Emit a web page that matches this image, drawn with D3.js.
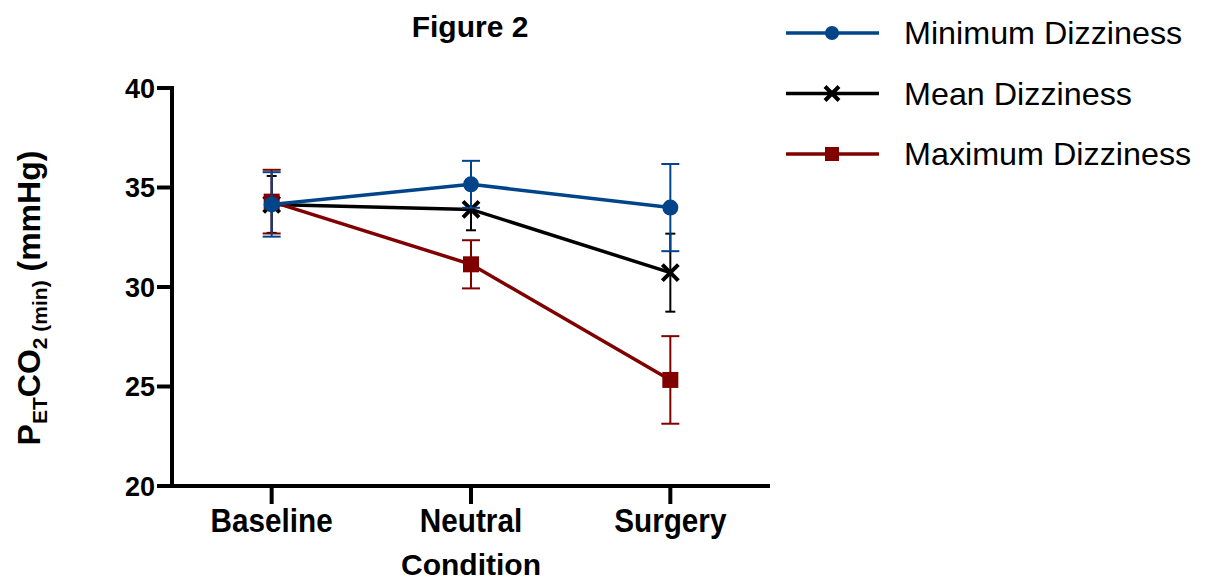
<!DOCTYPE html>
<html>
<head>
<meta charset="utf-8">
<script src="https://cdn.jsdelivr.net/npm/d3@7"></script>
<style>
  body { margin: 0; background: #fff; }
  text { font-family: "Liberation Sans", Arial, sans-serif; }
</style>
</head>
<body>
<div id="chart"></div>
<script>
// Data (PETCO2 min, mmHg, mean +/- error)
const conditions = ["Baseline", "Neutral", "Surgery"];
const seriesNames = ["Minimum Dizziness", "Mean Dizziness", "Maximum Dizziness"];
const minValues = [34.15, 35.16, 33.99];
const minErrors = [1.62, 1.18, 2.19];
const meanValues = [34.15, 33.90, 30.72];
const meanErrors = [1.43, 1.05, 1.96];
const maxValues = [34.29, 31.14, 25.33];
const maxErrors = [1.60, 1.21, 2.20];
const yTicks = [20, 25, 30, 35, 40];

const width = 1209, height = 582;
const svg = d3.select("#chart").append("svg")
    .attr("width", width)
    .attr("height", height);

// Scales
const x = d3.scalePoint().domain(conditions).range([172, 770]).padding(0.5);
const y = d3.scaleLinear().domain([20, 40]).range([486, 88]);

// Series styling (drawing order: mean, max, min)
const series = [
    { name: seriesNames[1], values: meanValues, errors: meanErrors, color: "#000000", marker: "cross", cap: 5 },
    { name: seriesNames[2], values: maxValues, errors: maxErrors, color: "#800000", marker: "square", cap: 9 },
    { name: seriesNames[0], values: minValues, errors: minErrors, color: "#00448a", marker: "circle", cap: 9 }
];

// Title
svg.append("text")
    .attr("x", 470).attr("y", 37)
    .attr("text-anchor", "middle")
    .attr("font-size", 30).attr("font-weight", "bold")
    .text("Figure 2");

// Axes
const axisColor = "#000";
svg.append("line")
    .attr("x1", x.range()[0]).attr("x2", x.range()[0])
    .attr("y1", y(40) - 2).attr("y2", y(20))
    .attr("stroke", axisColor).attr("stroke-width", 4);
svg.append("line")
    .attr("x1", x.range()[0] - 15).attr("x2", x.range()[1])
    .attr("y1", y(20)).attr("y2", y(20))
    .attr("stroke", axisColor).attr("stroke-width", 4);

// y ticks
yTicks.forEach(function (t) {
    svg.append("line")
        .attr("x1", x.range()[0] - 15).attr("x2", x.range()[0])
        .attr("y1", y(t)).attr("y2", y(t))
        .attr("stroke", axisColor).attr("stroke-width", 4);
    svg.append("text")
        .attr("x", 155).attr("y", y(t) + 9.5)
        .attr("text-anchor", "end")
        .attr("font-size", 27).attr("font-weight", "bold")
        .text(t);
});

// x ticks
conditions.forEach(function (c) {
    svg.append("line")
        .attr("x1", x(c)).attr("x2", x(c))
        .attr("y1", y(20)).attr("y2", y(20) + 18)
        .attr("stroke", axisColor).attr("stroke-width", 4);
    svg.append("text")
        .attr("transform", "translate(" + x(c) + ",532) scale(0.9,1)")
        .attr("text-anchor", "middle")
        .attr("font-size", 33).attr("font-weight", "bold")
        .text(c);
});

// x axis title
svg.append("text")
    .attr("x", 471).attr("y", 575)
    .attr("text-anchor", "middle")
    .attr("font-size", 30).attr("font-weight", "bold")
    .text("Condition");

// y axis title with subscripts
const yl = svg.append("text")
    .attr("transform", "translate(40,298) rotate(-90)")
    .attr("text-anchor", "middle")
    .attr("font-weight", "bold")
    .attr("font-size", 32);
yl.append("tspan").text("P");
yl.append("tspan").attr("font-size", 21).attr("dy", 7).text("ET");
yl.append("tspan").attr("dy", -7).text("CO");
yl.append("tspan").attr("font-size", 21).attr("dy", 7).text("2");
yl.append("tspan").attr("font-size", 21).text(" (min)");
yl.append("tspan").attr("dy", -7).text(" (mmHg)");

// Marker drawing
function drawMarker(g, type, cx, cy, color, size) {
    if (type === "circle") {
        g.append("circle").attr("cx", cx).attr("cy", cy).attr("r", size)
            .attr("fill", color);
    } else if (type === "square") {
        g.append("rect").attr("x", cx - size).attr("y", cy - size)
            .attr("width", size * 2).attr("height", size * 2)
            .attr("fill", color);
    } else {
        const s = size;
        g.append("path")
            .attr("d", "M" + (cx - s) + "," + (cy - s) + "L" + (cx + s) + "," + (cy + s) +
                "M" + (cx - s) + "," + (cy + s) + "L" + (cx + s) + "," + (cy - s))
            .attr("stroke", color).attr("stroke-width", 4).attr("fill", "none");
    }
}

const markerSize = { circle: 8, square: 8, cross: 8 };

// Plot series
series.forEach(function (s) {
    const g = svg.append("g");
    const pts = conditions.map(function (c, i) { return [x(c), y(s.values[i])]; });

    // error bars
    conditions.forEach(function (c, i) {
        const cx = x(c);
        const top = y(s.values[i] + s.errors[i]);
        const bot = y(s.values[i] - s.errors[i]);
        g.append("line").attr("x1", cx).attr("x2", cx).attr("y1", top).attr("y2", bot)
            .attr("stroke", s.color).attr("stroke-width", 2);
        [top, bot].forEach(function (yy) {
            g.append("line").attr("x1", cx - s.cap).attr("x2", cx + s.cap)
                .attr("y1", yy).attr("y2", yy)
                .attr("stroke", s.color).attr("stroke-width", 2);
        });
    });

    // connecting line
    g.append("path")
        .attr("d", d3.line()(pts))
        .attr("stroke", s.color).attr("stroke-width", 3.5)
        .attr("fill", "none");

    pts.forEach(function (p) {
        drawMarker(g, s.marker, p[0], p[1], s.color, markerSize[s.marker]);
    });
});

// Legend
const legendOrder = [series[2], series[0], series[1]];
const legendY = d3.scalePoint().domain(seriesNames).range([33, 154]);
legendOrder.forEach(function (s) {
    const ly = legendY(s.name);
    svg.append("line")
        .attr("x1", 786).attr("x2", 879).attr("y1", ly).attr("y2", ly)
        .attr("stroke", s.color).attr("stroke-width", 3.5);
    drawMarker(svg, s.marker, 832, ly, s.color, 7);
    svg.append("text")
        .attr("transform", "translate(904," + (ly + 11) + ") scale(1.06,1)")
        .attr("font-size", 30.5)
        .text(s.name);
});
</script>
</body>
</html>
